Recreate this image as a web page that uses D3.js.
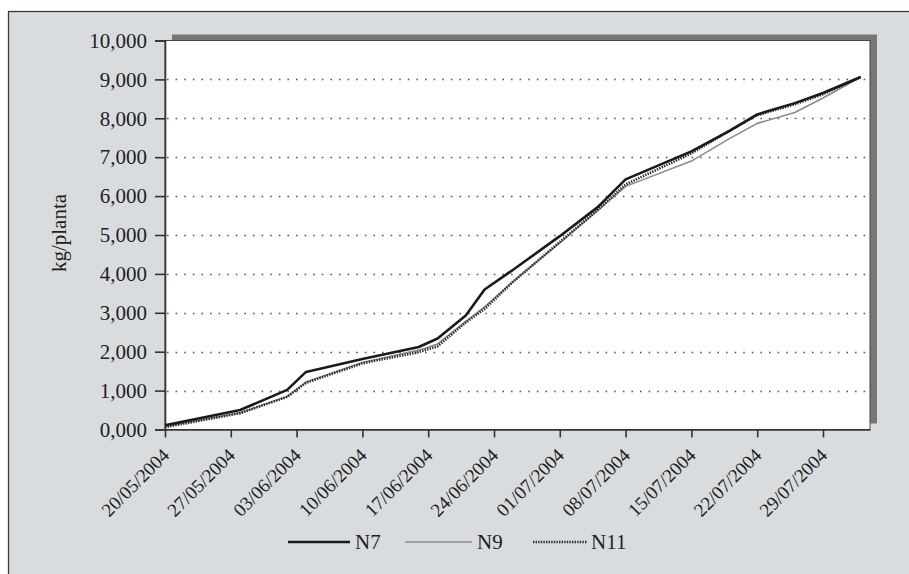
<!DOCTYPE html>
<html>
<head>
<meta charset="utf-8">
<script src="https://cdn.jsdelivr.net/npm/d3@7"></script>
<style>
  html, body { margin: 0; padding: 0; background: #ffffff; }
  svg { display: block; }
  text { font-family: "Liberation Serif", "Times New Roman", serif; fill: #1e1e1e; }
</style>
</head>
<body>
<svg id="chart" width="909" height="574"></svg>
<script>
// ---- data (values in kg/planta) ----
const dates = ["20/05/2004","28/05/2004","02/06/2004","04/06/2004","10/06/2004","16/06/2004",
               "18/06/2004","21/06/2004","23/06/2004","26/06/2004","01/07/2004","05/07/2004",
               "08/07/2004","15/07/2004","19/07/2004","22/07/2004","26/07/2004","29/07/2004","02/08/2004"];
const n7  = [0.11, 0.50, 1.02, 1.48, 1.81, 2.12, 2.34, 2.93, 3.60, 4.10, 4.97, 5.71, 6.43, 7.15, 7.67, 8.10, 8.39, 8.65, 9.06];
const n9  = [0.08, 0.43, 0.85, 1.22, 1.72, 2.04, 2.20, 2.78, 3.15, 3.80, 4.80, 5.62, 6.25, 6.90, 7.47, 7.87, 8.15, 8.52, 9.06];
const n11 = [0.06, 0.42, 0.84, 1.20, 1.70, 1.99, 2.14, 2.75, 3.10, 3.79, 4.82, 5.64, 6.30, 7.10, 7.67, 8.08, 8.36, 8.62, 9.06];
const seriesNames = ["N7", "N9", "N11"];
const xTickLabels = ["20/05/2004","27/05/2004","03/06/2004","10/06/2004","17/06/2004","24/06/2004",
                     "01/07/2004","08/07/2004","15/07/2004","22/07/2004","29/07/2004"];
const xDomain = ["20/05/2004", "03/08/2004"];
const yTicks = [0,1,2,3,4,5,6,7,8,9,10];
const yLabel = "kg/planta";

// ---- setup ----
const parse = d3.timeParse("%d/%m/%Y");
const loc = d3.formatLocale({decimal: ",", thousands: ".", grouping: [3], currency: ["", ""]});
const fmt = loc.format(".3f");

const svg = d3.select("#chart");
const L = 165, R = 870, T = 40.5, B = 429.5;

const x = d3.scaleTime().domain(xDomain.map(parse)).range([L, R]);
const y = d3.scaleLinear().domain([0, 10]).range([B, T]);

// background panel
svg.append("rect").attr("x", 8.5).attr("y", 11.5).attr("width", 960).attr("height", 620)
  .attr("fill", "#d9dcde").attr("stroke", "#3a3a3a").attr("stroke-width", 1.3);

// shadow of plot area
svg.append("rect").attr("x", L + 7).attr("y", T - 6).attr("width", R - L).attr("height", B - T)
  .attr("fill", "#777777");
// plot area
svg.append("rect").attr("x", L).attr("y", T).attr("width", R - L).attr("height", B - T)
  .attr("fill", "#ffffff").attr("stroke", "#444").attr("stroke-width", 1);

// gridlines
svg.append("g").selectAll("line").data(yTicks.filter(v => v > 0 && v < 10)).join("line")
  .attr("x1", L + 2).attr("x2", R - 2)
  .attr("y1", d => Math.round(y(d)) + 0.5).attr("y2", d => Math.round(y(d)) + 0.5)
  .attr("stroke", "#555").attr("stroke-width", 1.6).attr("stroke-dasharray", "1.6,7");

// axes
const yAxis = d3.axisLeft(y).tickValues(yTicks).tickFormat(fmt).tickSize(10).tickPadding(8);
const gy = svg.append("g").attr("transform", `translate(${L},0)`).call(yAxis);
gy.select(".domain").attr("stroke", "#333").attr("stroke-width", 1.6);
gy.selectAll(".tick line").attr("stroke", "#333").attr("stroke-width", 1.6);
gy.selectAll("text").attr("font-size", 21).attr("font-family", "Liberation Serif").attr("fill", "#1e1e1e");

const xAxis = d3.axisBottom(x).tickValues(xTickLabels.map(parse)).tickFormat(d3.timeFormat("%d/%m/%Y")).tickSize(8).tickSizeOuter(0);
const gx = svg.append("g").attr("transform", `translate(0,${B})`).call(xAxis);
gx.select(".domain").attr("stroke", "#333").attr("stroke-width", 1.6);
gx.selectAll(".tick line").attr("stroke", "#333").attr("stroke-width", 1.6);
gx.selectAll("text")
  .attr("font-size", 19).attr("font-family", "Liberation Serif").attr("fill", "#1e1e1e")
  .attr("text-anchor", "end").attr("dy", null).attr("y", 0)
  .attr("transform", "translate(5,27) rotate(-45)");

// y label
svg.append("text").attr("transform", "translate(66,233) rotate(-90)")
  .attr("text-anchor", "middle").attr("font-size", 21).text(yLabel);

// lines
const seriesData = [n7, n9, n11];
const styles = [
  {stroke: "#1a1a1a", width: 2.6, dash: null},
  {stroke: "#8a8a8a", width: 1.6, dash: null},
  {stroke: "#2a2a2a", width: 2.6, dash: "1.4,1.2"}
];
const line = d3.line().x(d => x(d.date)).y(d => y(d.v));
const order = [1, 2, 0];
order.forEach(i => {
  const pts = dates.map((d, j) => ({date: parse(d), v: seriesData[i][j]}));
  svg.append("path").datum(pts).attr("d", line).attr("fill", "none")
    .attr("stroke", styles[i].stroke).attr("stroke-width", styles[i].width)
    .attr("stroke-linejoin", "round")
    .attr("stroke-dasharray", styles[i].dash);
});

// legend
const legendItems = [
  {x1: 288, x2: 350, tx: 355},
  {x1: 405, x2: 472, tx: 477},
  {x1: 533, x2: 587, tx: 591}
];
const ly = 542;
seriesNames.forEach((name, i) => {
  const it = legendItems[i];
  svg.append("line").attr("x1", it.x1).attr("x2", it.x2).attr("y1", ly).attr("y2", ly)
    .attr("stroke", styles[i].stroke).attr("stroke-width", styles[i].width)
    .attr("stroke-dasharray", styles[i].dash);
  svg.append("text").attr("x", it.tx).attr("y", ly + 7).attr("font-size", 21).text(name);
});
</script>
</body>
</html>
